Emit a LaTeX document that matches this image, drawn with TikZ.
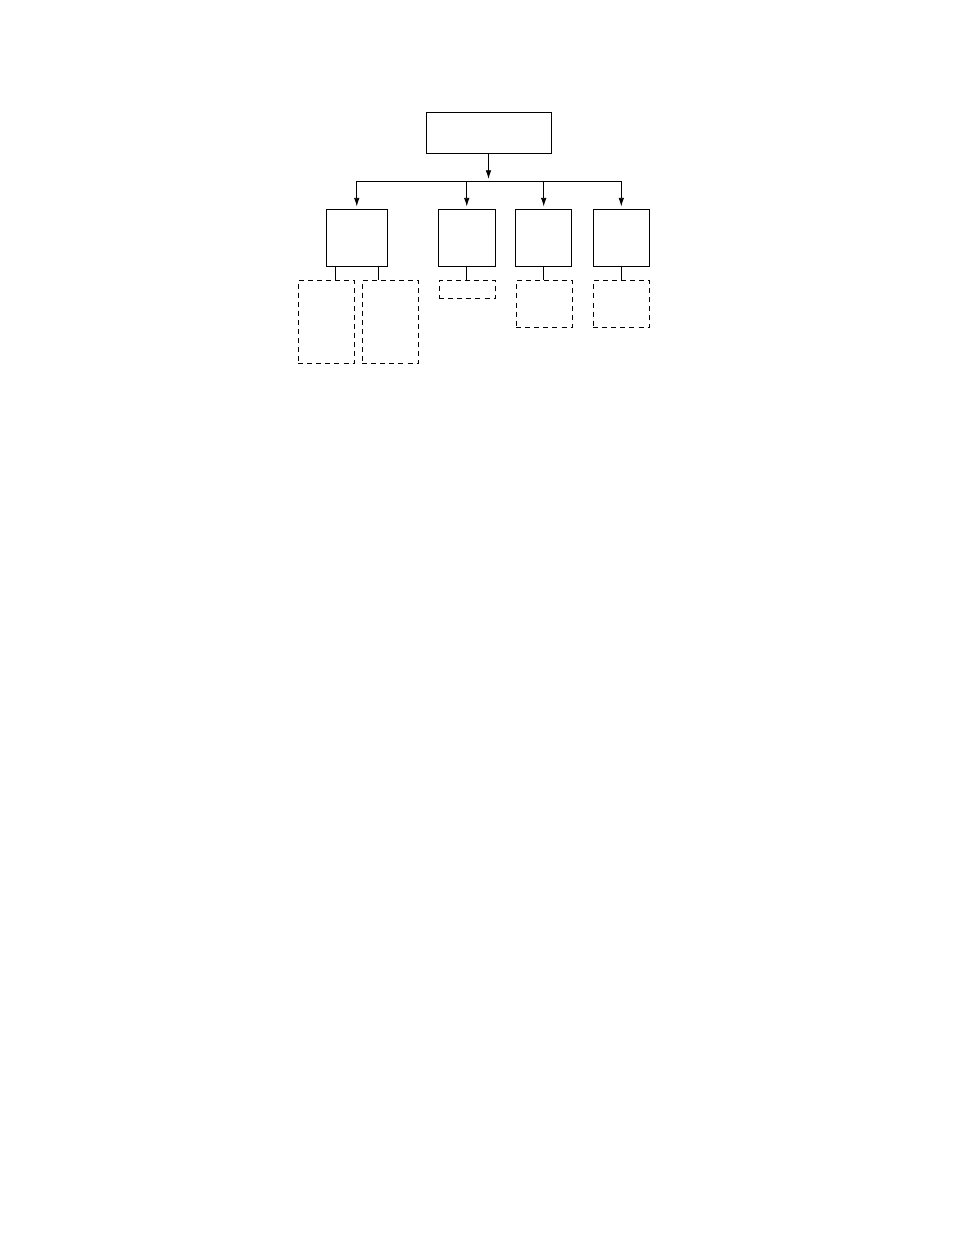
\documentclass[tikz,border=0pt]{standalone}
\usetikzlibrary{arrows.meta}
\def\px{0.6415bp}
\tikzset{
  box/.style={draw, line width=0.6bp, inner sep=0pt, minimum width={#1*\px}},
  dbox/.style={draw, line width=0.6bp, inner sep=0pt, dash pattern=on 3.2bp off 2.6bp, minimum width={56*\px}},
  conn/.style={line width=0.6bp},
  arr/.style={line width=0.6bp, -{Latex[length=5.6bp,width=3.6bp]}, shorten >=1.6bp},
}
\begin{document}
\begin{tikzpicture}[x=0.6415bp, y=-0.6415bp]
\useasboundingbox (0,0) rectangle (954,1235);
% solid boxes
\node[box=125, minimum height={41*\px}] (top) at (488.5,132.5) {};
\node[box=60.5, minimum height={56.5*\px}] (b1) at (356.75,237.75) {};
\node[box=56.5, minimum height={56.5*\px}] (b2) at (466.75,237.75) {};
\node[box=56, minimum height={56.5*\px}] (b3) at (543.7,237.75) {};
\node[box=56, minimum height={56.5*\px}] (b4) at (621.3,237.75) {};
% dashed boxes
\node[dbox, minimum height={83.3*\px}] (d1a) at (326.3,321.65) {};
\node[dbox, minimum height={83.3*\px}] (d1b) at (390.3,321.65) {};
\node[dbox, minimum height={18*\px}] (d2) at (467.3,289.7) {};
\node[dbox, minimum height={47*\px}] (d3) at (544.3,304.2) {};
\node[dbox, minimum height={47*\px}] (d4) at (621.3,304.2) {};
% bus
\coordinate (hl) at (0,181.5);
\coordinate (c1) at (335.7,0);
\coordinate (c2) at (378.3,0);
\draw[arr] (top.south) -- (top.south |- hl);
\draw[conn] (b1.north |- hl) -- (b4.north |- hl);
\draw[arr] (b1.north |- hl) -- (b1.north);
\draw[arr] (b2.north |- hl) -- (b2.north);
\draw[arr] (b3.north |- hl) -- (b3.north);
\draw[arr] (b4.north |- hl) -- (b4.north);
% links to dashed boxes
\draw[conn] (b1.south -| c1) -- (d1a.north -| c1);
\draw[conn] (b1.south -| c2) -- (d1b.north -| c2);
\draw[conn] (b2.south) -- (b2.south |- d2.north);
\draw[conn] (b3.south) -- (b3.south |- d3.north);
\draw[conn] (b4.south) -- (b4.south |- d4.north);
\end{tikzpicture}
\end{document}
